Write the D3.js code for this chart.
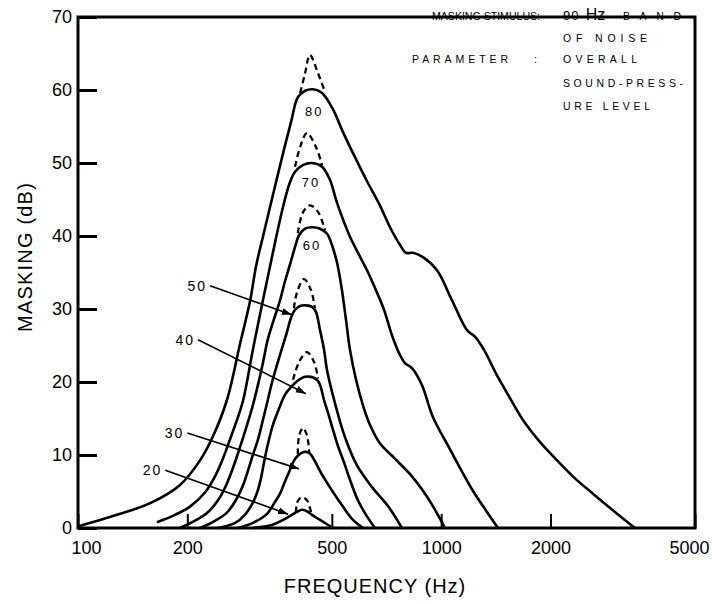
<!DOCTYPE html>
<html>
<head>
<meta charset="utf-8">
<script src="https://cdn.jsdelivr.net/npm/d3@7"></script>
<style>
  body { margin: 0; background: #fff; }
</style>
</head>
<body>
<script>
const width = 712;
const height = 604;

// masking curves: [frequency (Hz), masking (dB)]
// one solid curve per overall sound-pressure level of the noise band
const curve80 = [[100, 0.2], [128, 1.8], [158, 3.4], [191, 5.9], [217, 9.3], [235, 12.5], [257, 17.5], [279, 25.1],
  [298, 31.2], [309, 35.8], [323, 39.9], [338, 44.0], [353, 47.9], [369, 51.8], [386, 55.6], [403, 59.0],
  [422, 59.9], [444, 60.1], [470, 59.6], [503, 57.4], [537, 54.2], [579, 50.8], [625, 47.5],
  [678, 44.2], [723, 41.2], [770, 38.8], [800, 37.7], [836, 37.7], [891, 37.1], [974, 35.3], [1071, 31.2],
  [1178, 27.1], [1239, 26.2], [1312, 24.4], [1425, 20.9], [1547, 17.8], [1680, 14.8], [1870, 11.8],
  [2083, 9.3], [2336, 6.8], [2618, 4.7], [3009, 2.2], [3416, 0]];
const curve70 = [[165, 0.8], [185, 1.8], [203, 2.9], [224, 4.9], [238, 7.0], [251, 9.6], [262, 12.1], [274, 14.8],
  [285, 17.5], [303, 24.4], [323, 31.2], [344, 37.7], [367, 44.0], [383, 47.3], [396, 48.8], [416, 49.7],
  [441, 50.0], [470, 49.5], [494, 47.7], [517, 44.5], [561, 39.9], [625, 35.3], [661, 32.6], [696, 29.9],
  [732, 26.4], [770, 23.7], [795, 22.6], [831, 21.9], [885, 19.6], [949, 15.2], [1057, 10.8], [1223, 5.1],
  [1337, 2.2], [1434, 0]];
const curve60 = [[191, 0], [210, 1.0], [227, 2.1], [243, 3.8], [256, 5.9], [267, 8.2], [279, 11.0], [292, 14.1],
  [303, 16.8], [313, 19.6], [323, 22.6], [333, 25.8], [346, 28.5], [360, 31.2], [371, 33.7], [383, 36.0],
  [396, 38.5], [406, 40.1], [422, 41.0], [441, 41.2], [464, 41.0], [485, 40.3], [500, 38.8], [517, 36.3],
  [533, 32.6], [547, 28.5], [561, 24.4], [583, 20.3], [609, 16.8], [637, 14.1], [678, 11.6], [746, 9.5],
  [820, 7.4], [885, 5.3], [949, 3.0], [999, 1.0], [1024, 0]];
const curve50 = [[217, 0], [235, 0.8], [257, 2.1], [272, 3.8], [285, 5.9], [294, 7.9], [303, 10.0], [313, 12.1],
  [323, 14.8], [333, 17.5], [342, 19.9], [353, 22.3], [365, 24.7], [376, 26.8], [386, 28.8], [396, 29.9],
  [409, 30.4], [424, 30.5], [441, 30.3], [452, 29.6], [464, 27.1], [476, 24.4], [485, 21.6], [510, 17.1],
  [543, 12.5], [586, 8.6], [645, 5.6], [714, 3.0], [780, 0]];
const curve40 = [[243, 0], [271, 0.7], [288, 1.8], [301, 3.2], [311, 4.8], [319, 6.8], [325, 8.9], [333, 11.4],
  [344, 14.1], [358, 16.4], [371, 18.2], [386, 19.3], [401, 20.1], [419, 20.7], [438, 20.7], [455, 20.3],
  [464, 19.6], [476, 17.5], [488, 15.8], [504, 13.4], [520, 11.2], [540, 9.0], [561, 6.6], [590, 3.8],
  [621, 1.8], [657, 0]];
const curve30 = [[276, 0], [303, 0.7], [331, 1.9], [346, 3.3], [360, 4.7], [371, 6.3], [383, 7.9], [393, 9.2],
  [403, 9.9], [419, 10.4], [433, 10.3], [444, 9.6], [470, 7.3], [504, 4.9], [537, 2.9], [572, 1.1], [609, 0]];
const curve20 = [[303, 0], [342, 0.4], [367, 1.1], [388, 1.8], [401, 2.2], [414, 2.5], [427, 2.3], [441, 1.8],
  [464, 1.1], [504, 0]];

// dashed tops above each peak
const dash80 = [[409, 59.6], [422, 62.3], [435, 64.8], [458, 62.3], [479, 59.7]];
const dash70 = [[396, 49.5], [409, 52.2], [427, 54.1], [452, 52.2], [470, 49.7]];
const dash60 = [[403, 40.4], [416, 43.2], [435, 44.2], [458, 43.3], [479, 40.8]];
const dash50 = [[393, 30.1], [401, 32.3], [419, 34.1], [438, 32.6], [449, 30.1]];
const dash40 = [[391, 20.3], [406, 22.7], [427, 24.1], [447, 22.7], [458, 20.5]];
const dash30 = [[403, 10.1], [406, 12.5], [416, 13.7], [427, 12.7], [433, 10.4]];
const dash20 = [[398, 2.1], [403, 3.7], [414, 4.2], [427, 3.8], [438, 2.2]];

const solidCurves = [curve20, curve30, curve40, curve50, curve60, curve70, curve80];
const dashedTops = [dash20, dash30, dash40, dash50, dash60, dash70, dash80];

// labels written inside the three highest peaks
const peakLabels = ["80", "70", "60"];
const peakLabelAt = [[447, 56.4], [438, 46.7], [441, 38.1]];

// labels with arrows for the lower curves
const arrowLabels = ["50", "40", "30", "20"];
const arrowFrom = [[231, 33.2], [214, 25.8], [200, 13.0], [174, 7.9]];
const arrowTo = [[388, 29.2], [424, 18.4], [406, 8.1], [379, 1.9]];

const yTicks = [0, 10, 20, 30, 40, 50, 60, 70];
const xTickLabels = [100, 200, 500, 1000, 2000, 5000];

const font = "'Liberation Sans', Arial, sans-serif";

const svg = d3.select("body")
  .append("svg")
  .attr("width", width)
  .attr("height", height)
  .style("font-family", font);

const x = d3.scaleLog().domain([100, 5000]).range([78, 695]);
const y = d3.scaleLinear().domain([0, 70]).range([528, 17]);

svg.append("defs").append("marker")
  .attr("id", "head")
  .attr("viewBox", "0 -4 10 8")
  .attr("refX", 10)
  .attr("refY", 0)
  .attr("markerWidth", 10)
  .attr("markerHeight", 8)
  .attr("markerUnits", "userSpaceOnUse")
  .attr("orient", "auto")
  .append("path")
  .attr("d", "M0,-3.5L10,0L0,3.5Z")
  .attr("fill", "#000");

// y axis, ticks pointing inward
const yAxis = svg.append("g")
  .attr("transform", `translate(${x(100)},0)`)
  .call(d3.axisLeft(y).tickValues(yTicks).tickSize(-19).tickPadding(6));
yAxis.attr("font-size", 18).attr("font-family", font);
yAxis.select(".domain").remove();
yAxis.selectAll("line").attr("stroke", "#000").attr("stroke-width", 3);
yAxis.selectAll("text").attr("fill", "#000");

// x axis
const xAxis = svg.append("g")
  .attr("transform", `translate(0,${y(0)})`)
  .call(d3.axisBottom(x).tickValues(xTickLabels).tickFormat(d3.format("d")).tickSize(-14).tickPadding(13));
xAxis.attr("font-size", 18).attr("font-family", font);
xAxis.select(".domain").remove();
xAxis.selectAll("line").attr("stroke", "#000").attr("stroke-width", 2);
xAxis.selectAll("text").attr("fill", "#000")
  .attr("dx", d => d === 5000 ? -6 : d === 100 ? 8 : 0);

// frame
svg.append("rect")
  .attr("x", x(100))
  .attr("y", y(70))
  .attr("width", x(5000) - x(100))
  .attr("height", y(0) - y(70))
  .attr("fill", "none")
  .attr("stroke", "#000")
  .attr("stroke-width", 3);

const line = d3.line()
  .x(d => x(d[0]))
  .y(d => y(d[1]))
  .curve(d3.curveCatmullRom.alpha(0.5));

svg.append("g")
  .selectAll("path")
  .data(solidCurves)
  .join("path")
  .attr("d", line)
  .attr("fill", "none")
  .attr("stroke", "#000")
  .attr("stroke-width", 2.6)
  .attr("stroke-linejoin", "round");

svg.append("g")
  .selectAll("path")
  .data(dashedTops)
  .join("path")
  .attr("d", line)
  .attr("fill", "none")
  .attr("stroke", "#000")
  .attr("stroke-width", 2.3)
  .attr("stroke-dasharray", "6,4");

svg.append("g")
  .selectAll("text")
  .data(peakLabels)
  .join("text")
  .attr("x", (d, i) => x(peakLabelAt[i][0]))
  .attr("y", (d, i) => y(peakLabelAt[i][1]))
  .attr("text-anchor", "middle")
  .attr("font-size", 13)
  .attr("letter-spacing", 2)
  .text(d => d);

svg.append("g")
  .selectAll("line")
  .data(arrowLabels)
  .join("line")
  .attr("x1", (d, i) => x(arrowFrom[i][0]))
  .attr("y1", (d, i) => y(arrowFrom[i][1]))
  .attr("x2", (d, i) => x(arrowTo[i][0]))
  .attr("y2", (d, i) => y(arrowTo[i][1]))
  .attr("stroke", "#000")
  .attr("stroke-width", 1.6)
  .attr("marker-end", "url(#head)");

svg.append("g")
  .selectAll("text")
  .data(arrowLabels)
  .join("text")
  .attr("x", (d, i) => x(arrowFrom[i][0]) - 3)
  .attr("y", (d, i) => y(arrowFrom[i][1]) + 5)
  .attr("text-anchor", "end")
  .attr("font-size", 14)
  .attr("letter-spacing", 2)
  .text(d => d);

// axis titles
svg.append("text")
  .attr("transform", "translate(32,257) rotate(-90)")
  .attr("text-anchor", "middle")
  .attr("font-size", 20)
  .attr("letter-spacing", 1.2)
  .text("MASKING (dB)");

svg.append("text")
  .attr("x", 375)
  .attr("y", 593)
  .attr("text-anchor", "middle")
  .attr("font-size", 20)
  .attr("letter-spacing", 1)
  .text("FREQUENCY (Hz)");

// note in the top right corner
const note = svg.append("g").attr("font-size", 10.5);
note.append("text").attr("x", 432).attr("y", 20).attr("font-size", 10)
  .attr("textLength", 108).attr("lengthAdjust", "spacingAndGlyphs").text("MASKING STIMULUS:");
const band = note.append("text").attr("x", 563).attr("y", 20);
band.append("tspan").attr("font-size", 13).attr("letter-spacing", 1).text("90-");
band.append("tspan").attr("font-size", 16).attr("dx", 1).text("Hz");
note.append("text").attr("x", 623).attr("y", 20).attr("font-size", 10.5)
  .attr("textLength", 58).text("BAND");
note.append("text").attr("x", 563).attr("y", 42).attr("textLength", 84).text("OF NOISE");
note.append("text").attr("x", 412).attr("y", 63).attr("textLength", 96).text("PARAMETER");
note.append("text").attr("x", 534).attr("y", 63).text(":");
note.append("text").attr("x", 563).attr("y", 63).attr("textLength", 74).text("OVERALL");
note.append("text").attr("x", 563).attr("y", 87).attr("textLength", 120).text("SOUND-PRESS-");
note.append("text").attr("x", 563).attr("y", 110).attr("textLength", 87).text("URE LEVEL");
</script>
</body>
</html>
